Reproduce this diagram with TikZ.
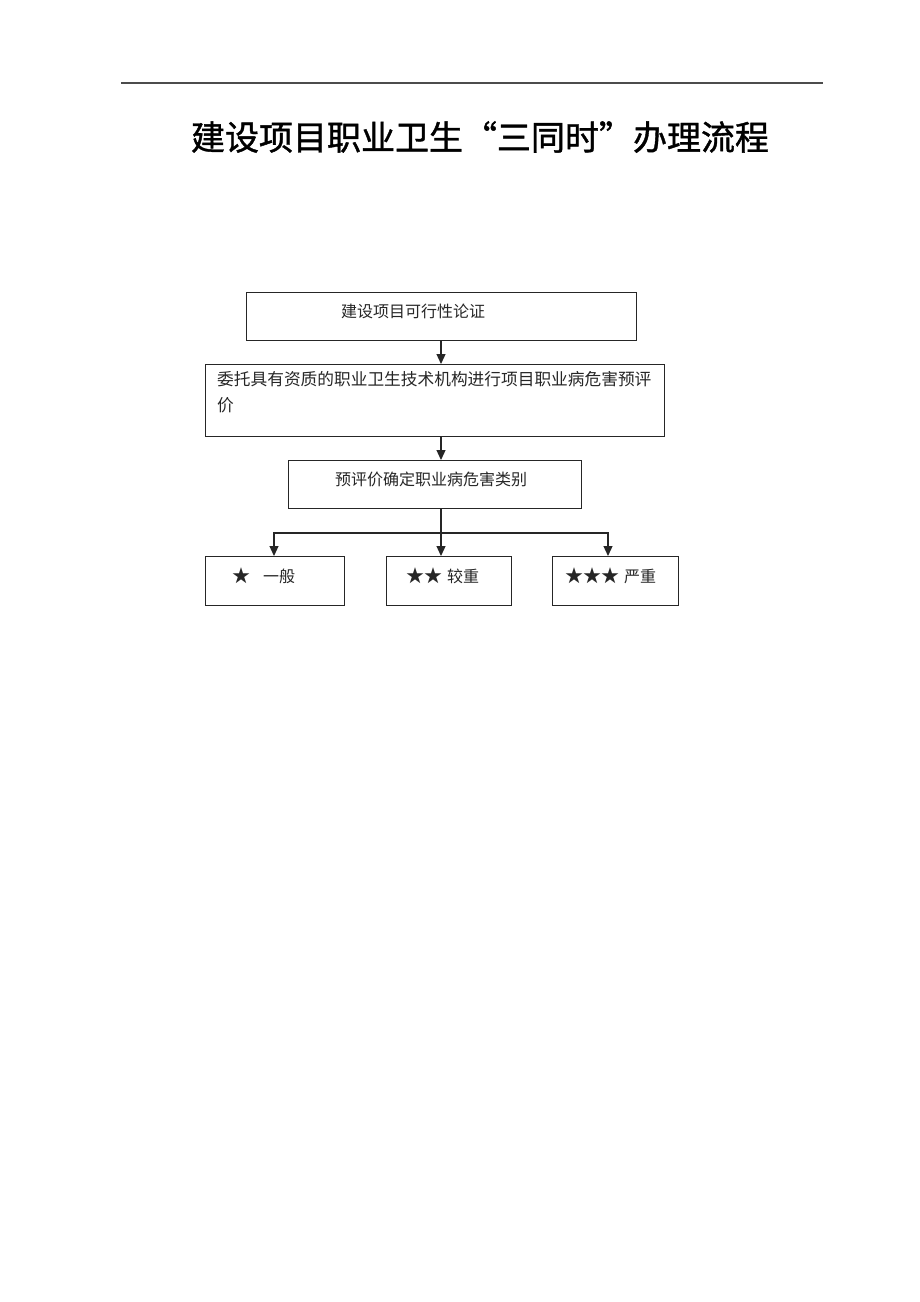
\documentclass[tikz,border=0pt]{standalone}
\usepackage{fontspec}
\newfontfamily\cjk{Noto Sans CJK SC}
\newfontfamily\cjkt[FakeBold=1.2]{Noto Sans CJK SC}
\usetikzlibrary{arrows.meta}
\begin{document}
\begin{tikzpicture}[x=1pt,y=-1pt,
  box/.style={draw=black!85,line width=1.2pt,rectangle,inner sep=0pt,anchor=north west},
  lbl/.style={font=\cjk\fontsize{16}{26}\selectfont,inner sep=0pt,text=black!85},
  conn/.style={draw=black!85,line width=1.2pt},
  arr/.style={conn,-{Triangle[length=10pt,width=9pt]}}]
\useasboundingbox[fill=white] (0,0) rectangle (920,1302);
% rule and title
\coordinate (r1) at (121,83);
\coordinate (r2) at (823,83);
\draw[line width=1.1pt,black!70] (r1) -- (r2);
\node[font=\cjkt\fontsize{34}{40}\selectfont,inner sep=0pt] (title) at (480,137) {建设项目职业卫生“三同时”办理流程};
% boxes
\node[box,minimum width=390pt,minimum height=48pt] (b1) at (246,292) {};
\node[box,minimum width=459pt,minimum height=72pt] (b2) at (205,364) {};
\node[box,minimum width=293pt,minimum height=48pt] (b3) at (288,460) {};
\node[box,minimum width=139pt,minimum height=49pt] (c1) at (205,556) {};
\node[box,minimum width=125pt,minimum height=49pt] (c2) at (386,556) {};
\node[box,minimum width=126pt,minimum height=49pt] (c3) at (552,556) {};
% labels
\node[lbl] (t1) at (413,311) {建设项目可行性论证};
\node[lbl,font=\cjk\fontsize{16.7}{26}\selectfont,anchor=north west,align=left] (t2) at (217,371) {委托具有资质的职业卫生技术机构进行项目职业病危害预评\\价};
\node[lbl] (t3) at (431,479) {预评价确定职业病危害类别};
\node[lbl,anchor=west] (t4) at (232,576) {{\fontsize{18}{26}\selectfont★}\hspace{13pt}一般};
\node[lbl,anchor=west] (t5) at (406,576) {{\fontsize{18}{26}\selectfont★★}\hspace{5pt}较重};
\node[lbl,anchor=west] (t6) at (565,576) {{\fontsize{18}{26}\selectfont★★★}\hspace{5pt}严重};
% connectors
\draw[arr] (b1.south -| 441,0) -- (b2.north -| 441,0);
\draw[arr] (b2.south -| 441,0) -- (b3.north -| 441,0);
\coordinate (j) at (441,533);
\coordinate (jl) at (274,533);
\coordinate (jr) at (608,533);
\draw[arr] (b3.south -| 441,0) -- (c2.north -| 441,0);
\draw[arr] (j) -- (jl) -- (c1.north -| jl);
\draw[arr] (j) -- (jr) -- (c3.north -| jr);
\end{tikzpicture}
\end{document}
